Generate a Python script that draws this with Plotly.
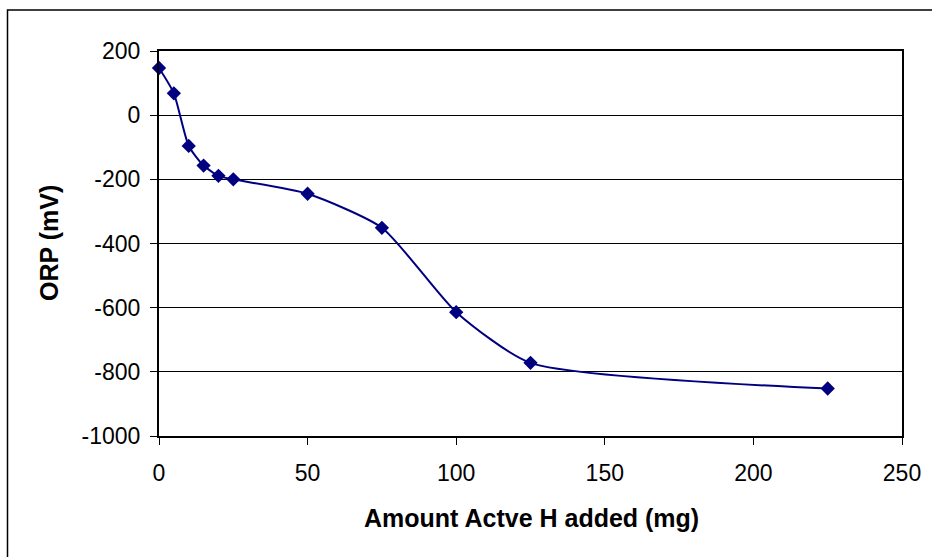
import plotly.graph_objects as go

# ORP titration readings
amount_mg = [0, 5, 10, 15, 20, 25, 50, 75, 100, 125, 225]
orp_mv = [147, 68, -96, -157, -189, -200, -245, -351, -614, -772, -852]

x_ticks = [0, 50, 100, 150, 200, 250]
y_ticks = [200, 0, -200, -400, -600, -800, -1000]

NAVY = "#000080"
FONT = "Liberation Sans, Arial, sans-serif"

fig = go.Figure()
fig.add_trace(go.Scatter(
    x=amount_mg,
    y=orp_mv,
    mode="lines+markers",
    line=dict(color=NAVY, width=2, shape="spline", smoothing=0.6),
    marker=dict(symbol="diamond", size=11, color=NAVY),
    showlegend=False,
    cliponaxis=False,
))

fig.update_layout(
    width=932,
    height=557,
    margin=dict(l=159, r=30, t=51, b=121),
    paper_bgcolor="white",
    plot_bgcolor="white",
    font=dict(family=FONT, color="black", size=23),
    xaxis=dict(
        range=[0, 250],
        tickvals=x_ticks,
        ticktext=[str(v) for v in x_ticks],
        showgrid=False,
        zeroline=False,
        showline=True,
        linecolor="black",
        linewidth=2,
        mirror=True,
        ticks="outside",
        ticklen=7,
        tickcolor="black",
        tickwidth=1,
        ticklabelstandoff=8,
        tickfont=dict(size=23),
    ),
    yaxis=dict(
        range=[-1000, 200],
        tickvals=y_ticks,
        ticktext=[str(v) for v in y_ticks],
        showgrid=True,
        gridcolor="black",
        gridwidth=1,
        zeroline=False,
        showline=True,
        linecolor="black",
        linewidth=2,
        mirror=True,
        ticks="outside",
        ticklen=7,
        tickcolor="black",
        tickwidth=1,
        ticklabelstandoff=5,
        tickfont=dict(size=23),
    ),
    annotations=[
        dict(
            text="<b>Amount Actve H added (mg)</b>",
            xref="paper", yref="paper",
            x=0.502, y=-0.213,
            xanchor="center", yanchor="middle",
            showarrow=False,
            font=dict(size=25, family=FONT),
        ),
        dict(
            text="<b>ORP (mV)</b>",
            xref="paper", yref="paper",
            x=-0.1487, y=0.5,
            xanchor="center", yanchor="middle",
            textangle=-90,
            showarrow=False,
            font=dict(size=25, family=FONT),
        ),
    ],
    shapes=[
        # outer chart frame
        dict(
            type="rect",
            xref="paper", yref="paper",
            x0=-0.2039, y0=-0.3169, x1=1.0417, y1=1.1065,
            line=dict(color="black", width=1.5),
            fillcolor="rgba(0,0,0,0)",
            layer="below",
        ),
    ],
)

fig.write_html("out.html")
